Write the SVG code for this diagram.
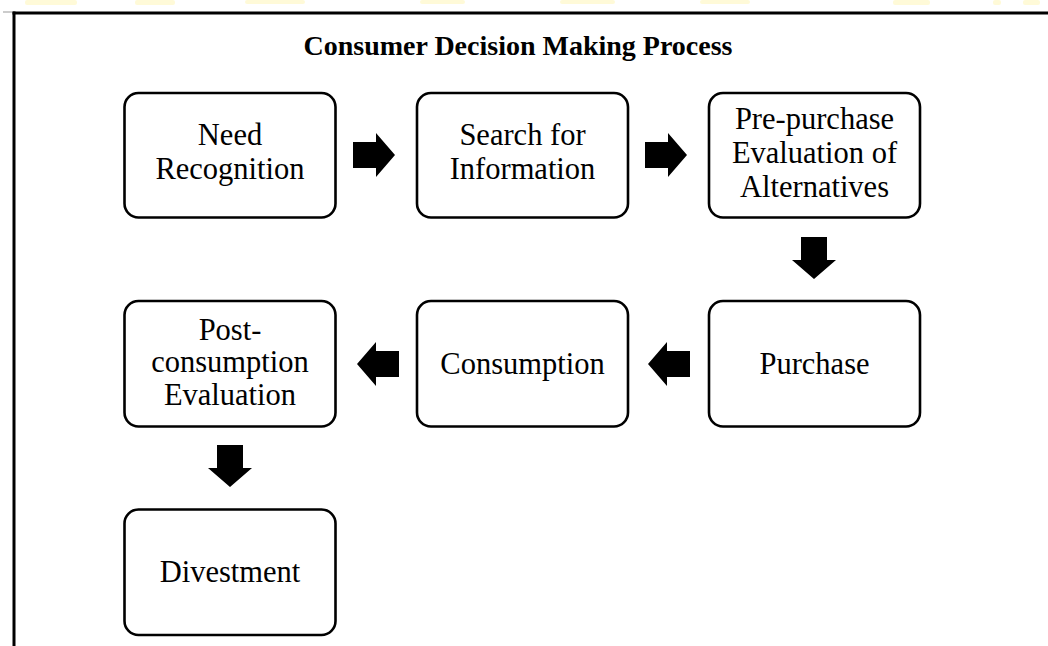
<svg xmlns="http://www.w3.org/2000/svg" width="1048" height="646" viewBox="0 0 1048 646">
  <defs>
    <style>
      .box { fill: #ffffff; stroke: #000000; stroke-width: 2.6; }
      .lbl { font-family: "Liberation Serif", "Times New Roman", serif; font-size: 30.5px; fill: #000000; text-anchor: middle; }
      .ttl { font-family: "Liberation Serif", "Times New Roman", serif; font-size: 28px; font-weight: bold; fill: #000000; text-anchor: middle; }
      .arr { fill: #000000; }
      .frame { stroke: #000000; stroke-width: 3; fill: none; }
      .tint { fill: #fff8c8; opacity: 0.7; }
    </style>
    <!-- block arrow pointing right, drawn around its own centre -->
    <path id="blockArrow" d="M -21 -13 L 2 -13 L 2 -22 L 21 0 L 2 22 L 2 13 L -21 13 Z"/>
  </defs>

  <rect x="0" y="0" width="1048" height="646" fill="#ffffff"/>

  <!-- pale highlight bleeding in along the top edge -->
  <g id="top-tint">
    <rect class="tint" x="25" y="0" width="52" height="5" rx="2"/>
    <rect class="tint" x="135" y="0" width="40" height="5" rx="2"/>
    <rect class="tint" x="245" y="0" width="60" height="4" rx="2"/>
    <rect class="tint" x="420" y="0" width="45" height="4" rx="2"/>
    <rect class="tint" x="560" y="0" width="55" height="4" rx="2"/>
    <rect class="tint" x="700" y="0" width="50" height="4" rx="2"/>
    <rect class="tint" x="893" y="0" width="37" height="5" rx="2"/>
    <rect class="tint" x="993" y="0" width="8" height="5" rx="2"/>
    <rect class="tint" x="1023" y="0" width="17" height="5" rx="2"/>
  </g>

  <!-- page frame -->
  <g id="frame">
    <line class="frame" x1="12.5" y1="13" x2="1048" y2="13"/>
    <line class="frame" x1="14" y1="11.5" x2="14" y2="646"/>
    <line x1="3" y1="12" x2="12" y2="12" stroke="#999999" stroke-width="1"/>
  </g>

  <text id="title" class="ttl" x="518" y="55">Consumer Decision Making Process</text>

  <!-- connectors -->
  <g id="connectors" class="arr">
    <use href="#blockArrow" transform="translate(374,155)"/>
    <use href="#blockArrow" transform="translate(666,155)"/>
    <use href="#blockArrow" transform="translate(814,258) rotate(90)"/>
    <use href="#blockArrow" transform="translate(669,364) rotate(180)"/>
    <use href="#blockArrow" transform="translate(378,364) rotate(180)"/>
    <use href="#blockArrow" transform="translate(230,466) rotate(90)"/>
  </g>

  <g id="need-recognition">
    <rect class="box" x="124.5" y="93" width="211" height="124.5" rx="14"/>
    <text class="lbl" x="230" y="145">Need</text>
    <text class="lbl" x="230" y="179">Recognition</text>
  </g>

  <g id="search-information">
    <rect class="box" x="417" y="93" width="211" height="124.5" rx="14"/>
    <text class="lbl" x="522.5" y="145">Search for</text>
    <text class="lbl" x="522.5" y="179">Information</text>
  </g>

  <g id="pre-purchase-evaluation">
    <rect class="box" x="709" y="93" width="211" height="124.5" rx="14"/>
    <text class="lbl" x="814.5" y="129">Pre-purchase</text>
    <text class="lbl" x="814.5" y="163">Evaluation of</text>
    <text class="lbl" x="814.5" y="197">Alternatives</text>
  </g>

  <g id="purchase">
    <rect class="box" x="709" y="301" width="211" height="125.5" rx="14"/>
    <text class="lbl" x="814.5" y="374">Purchase</text>
  </g>

  <g id="consumption">
    <rect class="box" x="417" y="301" width="211" height="125.5" rx="14"/>
    <text class="lbl" x="522.5" y="374">Consumption</text>
  </g>

  <g id="post-consumption-evaluation">
    <rect class="box" x="124.5" y="301" width="211" height="125.5" rx="14"/>
    <text class="lbl" x="230" y="340">Post-</text>
    <text class="lbl" x="230" y="372">consumption</text>
    <text class="lbl" x="230" y="405">Evaluation</text>
  </g>

  <g id="divestment">
    <rect class="box" x="124.5" y="509.5" width="211" height="125.5" rx="14"/>
    <text class="lbl" x="230" y="582">Divestment</text>
  </g>
</svg>
